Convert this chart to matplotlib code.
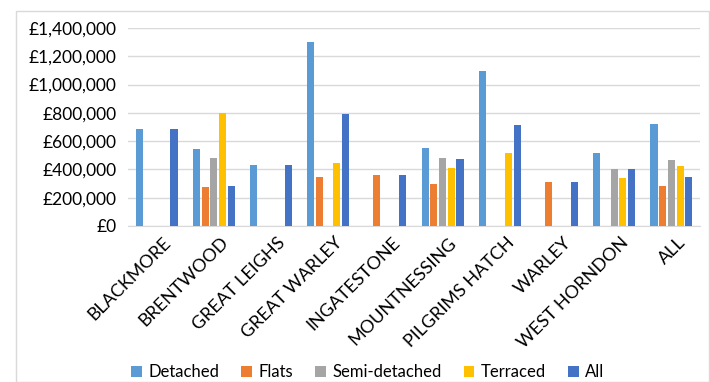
import matplotlib
matplotlib.use("Agg")
import matplotlib.pyplot as plt
import numpy as np
from matplotlib.patches import Rectangle
from matplotlib.ticker import FuncFormatter
from matplotlib.transforms import ScaledTranslation

categories = ["BLACKMORE", "BRENTWOOD", "GREAT LEIGHS", "GREAT WARLEY", "INGATESTONE",
              "MOUNTNESSING", "PILGRIMS HATCH", "WARLEY", "WEST HORNDON", "ALL"]
detached = [685000, 543000, 434000, 1298000, 0, 552000, 1098000, 0, 515000, 720000]
flats = [0, 278000, 0, 347000, 361000, 295000, 0, 309000, 0, 283000]
semi_detached = [0, 484000, 0, 0, 0, 481000, 0, 0, 404000, 467000]
terraced = [0, 798000, 0, 444000, 0, 411000, 517000, 0, 340000, 423000]
all_types = [685000, 285000, 434000, 791000, 361000, 474000, 713000, 309000, 404000, 345000]

series_names = ["Detached", "Flats", "Semi-detached", "Terraced", "All"]
series = [detached, flats, semi_detached, terraced, all_types]
colors = ["#5B9BD5", "#ED7D31", "#A5A5A5", "#FFC000", "#4472C4"]

plt.rcParams['font.family'] = ['Lato', 'DejaVu Sans']

fig = plt.figure(figsize=(7.10, 3.82), dpi=100)
fig.patches.append(Rectangle((16/710, 0.0), (709-16)/710, 1 - 11/382,
                             transform=fig.transFigure, fill=False,
                             edgecolor="#D9D9D9", linewidth=1))
ax = fig.add_axes([128/710, 1 - 226/382, (700-128)/710, (226-28)/382])

x = np.arange(len(categories))
slot = 0.152
bw = 0.125
for i, (name, vals, c) in enumerate(zip(series_names, series, colors)):
    ax.bar(x + (i - 2) * slot, vals, width=bw, color=c, label=name, zorder=3)

ax.set_xlim(-0.5, len(categories) - 0.5)
ax.set_ylim(0, 1400000)
ax.set_yticks(np.arange(0, 1400001, 200000))
ax.yaxis.set_major_formatter(FuncFormatter(lambda v, p: "£{:,.0f}".format(v)))
ax.grid(axis='y', color="#D9D9D9", linewidth=1, zorder=0)
for s in ["top", "right", "left"]:
    ax.spines[s].set_visible(False)
ax.spines["bottom"].set_color("#D9D9D9")
ax.tick_params(axis='both', length=0, colors="#000000")
ax.tick_params(axis='y', pad=8, labelsize=12.5)
ax.set_xticks(x)
ax.set_xticklabels(categories, rotation=45, ha='right', va='top', rotation_mode='anchor',
                   fontsize=13)
ax.tick_params(axis='x', pad=6)
offset = ScaledTranslation(6/100, 0, fig.dpi_scale_trans)
for lbl in ax.get_xticklabels():
    lbl.set_transform(lbl.get_transform() + offset)

fig.legend(loc='center', bbox_to_anchor=(368/710, 1 - 372/382), ncol=5, frameon=False,
           fontsize=12, handlelength=0.65, handleheight=0.65, handletextpad=0.4,
           columnspacing=1.3)

fig.savefig("out.png", dpi=100)
